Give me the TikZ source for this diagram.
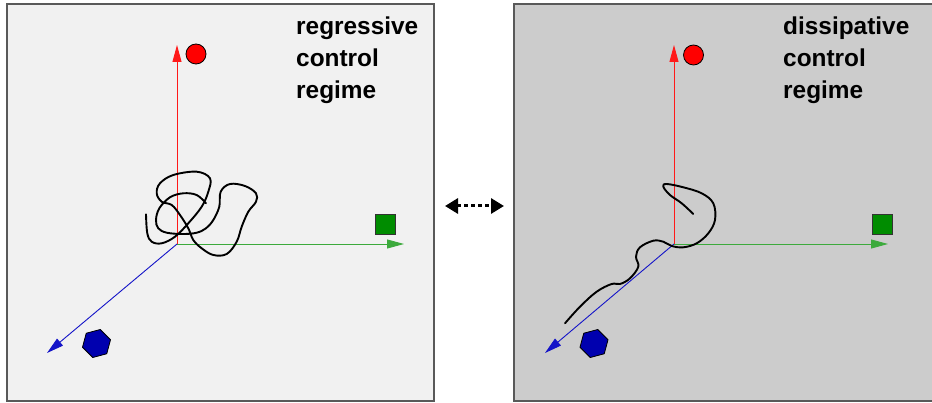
\documentclass[tikz,border=0pt]{standalone}
\usepackage{fontspec}
\setmainfont{Liberation Sans}
\usetikzlibrary{arrows.meta,shapes.geometric}
\definecolor{panelA}{gray}{0.945}
\definecolor{panelB}{gray}{0.80}
\definecolor{frame}{gray}{0.35}
\definecolor{axred}{rgb}{1,0.1,0.1}
\definecolor{axgreen}{RGB}{60,170,60}
\definecolor{axblue}{RGB}{20,20,200}
\definecolor{sqgreen}{RGB}{0,140,0}
\definecolor{hexblue}{RGB}{0,0,175}
\tikzset{
  panel/.style={draw=frame, line width=1.5pt},
  axis/.style={line width=0.9pt, -{Triangle[length=17pt,width=9pt]}},
  redball/.style={circle, draw=black, line width=0.8pt, fill=red, minimum size=20pt, inner sep=0pt},
  greensq/.style={rectangle, draw=black!80, line width=0.8pt, fill=sqgreen, minimum size=20pt, inner sep=0pt},
  bluehex/.style={regular polygon, regular polygon sides=6, shape border rotate=15, draw=black, line width=0.8pt, fill=hexblue, minimum size=29pt, inner sep=0pt},
  regimetext/.style={anchor=base west, inner sep=0pt, font=\fontsize{24.4}{28}\selectfont\bfseries},
  scribble/.style={line width=1.9pt, line cap=round, line join=round},
}
\begin{document}
\begin{tikzpicture}[x=1pt,y=-1pt]
\useasboundingbox (0,0) rectangle (932,403);
% panels
\draw[panel, fill=panelA] (7,4) rectangle (434,401);
\draw[panel, fill=panelB] (514,4) rectangle (933,401);

% ---------- left panel ----------
\coordinate (oA) at (177,244);
\coordinate (zA) at (177,45);
\coordinate (xA) at (404,244);
\coordinate (yA) at (47,353);
\draw[axis, axred] (oA) -- (zA);
\draw[axis, axgreen] (oA) -- (xA);
\draw[axis, axblue] (oA) -- (yA);
\node[redball] (cA) at (196,54) {};
\node[greensq] (sA) at (385,224) {};
\node[bluehex] (hA) at (96.5,343.5) {};
\node[regimetext] (tA1) at (296,35) {regressive};
\node[regimetext] (tA2) at (296,67) {control};
\node[regimetext] (tA3) at (296,99) {regime};
\draw[scribble] plot[smooth, tension=0.6] coordinates {
 (206,203.3) (196.7,195) (183.3,193.3) (170,197.3) (159.3,208.3) (156,220)
 (158.3,228.3) (166.7,232.7) (183.3,234) (196.7,232.7) (206,228.3) (213.3,220)
 (219.3,206.7) (220.7,191.7) (230,184) (245,186) (256,193.3) (256,201.7)
 (248.3,211.7) (241.7,226.7) (236.7,241.7) (226.7,254) (213.3,255) (201.7,248.3)
 (193.3,240) (188.3,228.3) (180,215) (171.7,205) (161.7,201.7) (156.7,193.3)
 (160,183.3) (173.3,175) (196.7,171.7) (210,178.3) (208.3,191.7) (201.7,206.7)
 (188.3,223.3) (175,236.7) (161.7,243.3) (151.7,241.7) (147.3,233.3) (146,214.3)};

% ---------- right panel ----------
\coordinate (oB) at (674,244);
\coordinate (zB) at (674,45);
\coordinate (xB) at (888,244);
\coordinate (yB) at (545,353);
\draw[axis, axred] (oB) -- (zB);
\draw[axis, axgreen] (oB) -- (xB);
\draw[axis, axblue] (oB) -- (yB);
\node[redball] (cB) at (693.5,55) {};
\node[greensq] (sB) at (882,224) {};
\node[bluehex] (hB) at (594,343.5) {};
\node[regimetext] (tB1) at (783,35) {dissipative};
\node[regimetext] (tB2) at (783,67) {control};
\node[regimetext] (tB3) at (783,99) {regime};
\draw[scribble] plot[smooth, tension=0.6] coordinates {
 (565,323.3) (580,306.7) (596.7,291.7) (611.7,284) (620,284) (630,278.3)
 (638.3,266.7) (636,256.7) (640,247.3) (653.3,240.7) (663.3,241.7) (671.7,246)
 (683.3,247.3) (696.7,243.3) (708.3,233.3) (715,220) (713.3,203.3) (701.7,193.3)
 (683.3,187.3) (666.7,184) (663.3,186.7) (670,195) (681.7,203.3) (693.3,214)};

% ---------- middle double arrow ----------
\coordinate (mL) at (445,206);
\coordinate (mR) at (504,206);
\draw[line width=3pt, dash pattern=on 3.5pt off 3.5pt,
      {Triangle[length=13pt,width=15pt]}-{Triangle[length=13pt,width=15pt]}] (mL) -- (mR);
\end{tikzpicture}
\end{document}
